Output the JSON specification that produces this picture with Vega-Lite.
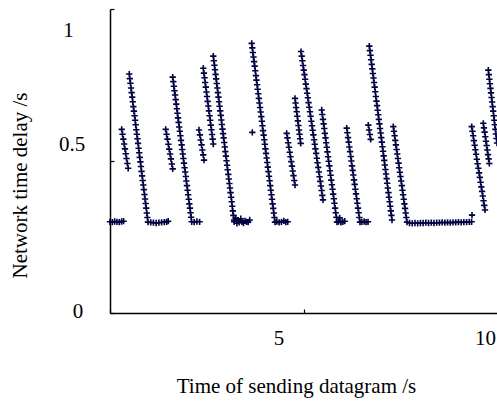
{
"$schema": "https://vega.github.io/schema/vega-lite/v6.json",
"width": 388,
"height": 304,
"autosize": {"type": "none"},
"padding": {"left": 110, "top": 9, "right": 0, "bottom": 88},
"background": "white",
"config": {
  "view": {"stroke": null},
  "axis": {"grid": false, "domainColor": "black", "domainWidth": 1.5, "tickColor": "black", "tickWidth": 1.2, "labelColor": "black", "titleColor": "black", "labelFont": "Liberation Serif", "titleFont": "Liberation Serif", "labelFontSize": 21, "titleFontSize": 21, "titleFontWeight": "normal"}
},
"data": {"values": [
{"t":0.00,"d":0.300},{"t":0.06,"d":0.299},{"t":0.12,"d":0.301},{"t":0.18,"d":0.300},{"t":0.24,"d":0.299},{"t":0.30,"d":0.301},{"t":0.35,"d":0.302},
{"t":0.302,"d":0.604},{"t":0.323,"d":0.588},{"t":0.344,"d":0.572},{"t":0.365,"d":0.556},{"t":0.386,"d":0.540},{"t":0.406,"d":0.524},{"t":0.427,"d":0.508},{"t":0.448,"d":0.492},{"t":0.469,"d":0.476},
{"t":0.497,"d":0.786},{"t":0.512,"d":0.771},{"t":0.527,"d":0.756},{"t":0.542,"d":0.740},{"t":0.557,"d":0.725},{"t":0.572,"d":0.710},{"t":0.587,"d":0.695},{"t":0.602,"d":0.679},{"t":0.617,"d":0.664},{"t":0.633,"d":0.649},{"t":0.648,"d":0.634},{"t":0.663,"d":0.619},{"t":0.678,"d":0.603},{"t":0.693,"d":0.588},{"t":0.708,"d":0.573},{"t":0.723,"d":0.558},{"t":0.738,"d":0.542},{"t":0.753,"d":0.527},{"t":0.768,"d":0.512},{"t":0.783,"d":0.497},{"t":0.798,"d":0.482},{"t":0.813,"d":0.466},{"t":0.828,"d":0.451},{"t":0.843,"d":0.436},{"t":0.858,"d":0.421},{"t":0.873,"d":0.406},{"t":0.889,"d":0.390},{"t":0.904,"d":0.375},{"t":0.919,"d":0.360},{"t":0.934,"d":0.345},{"t":0.949,"d":0.329},{"t":0.964,"d":0.314},{"t":0.979,"d":0.299},
{"t":1.05,"d":0.298},{"t":1.12,"d":0.297},{"t":1.19,"d":0.296},{"t":1.26,"d":0.297},{"t":1.33,"d":0.298},{"t":1.40,"d":0.299},{"t":1.46,"d":0.300},{"t":1.50,"d":0.302},
{"t":1.436,"d":0.604},{"t":1.459,"d":0.588},{"t":1.481,"d":0.572},{"t":1.504,"d":0.555},{"t":1.526,"d":0.539},{"t":1.549,"d":0.523},{"t":1.571,"d":0.507},{"t":1.594,"d":0.490},{"t":1.616,"d":0.474},
{"t":1.616,"d":0.776},{"t":1.631,"d":0.761},{"t":1.647,"d":0.746},{"t":1.662,"d":0.731},{"t":1.677,"d":0.717},{"t":1.693,"d":0.702},{"t":1.708,"d":0.687},{"t":1.723,"d":0.672},{"t":1.738,"d":0.657},{"t":1.754,"d":0.642},{"t":1.769,"d":0.627},{"t":1.784,"d":0.612},{"t":1.800,"d":0.598},{"t":1.815,"d":0.583},{"t":1.830,"d":0.568},{"t":1.846,"d":0.553},{"t":1.861,"d":0.538},{"t":1.876,"d":0.523},{"t":1.892,"d":0.508},{"t":1.907,"d":0.493},{"t":1.922,"d":0.478},{"t":1.938,"d":0.464},{"t":1.953,"d":0.449},{"t":1.968,"d":0.434},{"t":1.983,"d":0.419},{"t":1.999,"d":0.404},{"t":2.014,"d":0.389},{"t":2.029,"d":0.374},{"t":2.045,"d":0.359},{"t":2.060,"d":0.345},{"t":2.075,"d":0.330},{"t":2.091,"d":0.315},{"t":2.106,"d":0.300},
{"t":2.17,"d":0.299},{"t":2.24,"d":0.301},{"t":2.31,"d":0.300},
{"t":2.294,"d":0.602},{"t":2.316,"d":0.586},{"t":2.337,"d":0.569},{"t":2.359,"d":0.553},{"t":2.380,"d":0.536},{"t":2.402,"d":0.520},{"t":2.423,"d":0.503},
{"t":2.405,"d":0.805},{"t":2.421,"d":0.789},{"t":2.437,"d":0.774},{"t":2.453,"d":0.758},{"t":2.469,"d":0.743},{"t":2.485,"d":0.727},{"t":2.501,"d":0.712},{"t":2.517,"d":0.696},{"t":2.533,"d":0.681},{"t":2.550,"d":0.665},{"t":2.566,"d":0.649},{"t":2.582,"d":0.634},{"t":2.598,"d":0.618},{"t":2.614,"d":0.603},{"t":2.630,"d":0.587},{"t":2.646,"d":0.572},{"t":2.662,"d":0.556},
{"t":2.662,"d":0.845},{"t":2.677,"d":0.830},{"t":2.692,"d":0.815},{"t":2.706,"d":0.800},{"t":2.721,"d":0.785},{"t":2.736,"d":0.770},{"t":2.751,"d":0.755},{"t":2.766,"d":0.740},{"t":2.781,"d":0.725},{"t":2.795,"d":0.710},{"t":2.810,"d":0.695},{"t":2.825,"d":0.680},{"t":2.840,"d":0.665},{"t":2.855,"d":0.650},{"t":2.870,"d":0.635},{"t":2.884,"d":0.620},{"t":2.899,"d":0.605},{"t":2.914,"d":0.590},{"t":2.929,"d":0.576},{"t":2.944,"d":0.561},{"t":2.959,"d":0.546},{"t":2.973,"d":0.531},{"t":2.988,"d":0.516},{"t":3.003,"d":0.501},{"t":3.018,"d":0.486},{"t":3.033,"d":0.471},{"t":3.048,"d":0.456},{"t":3.062,"d":0.441},{"t":3.077,"d":0.426},{"t":3.092,"d":0.411},{"t":3.107,"d":0.396},{"t":3.122,"d":0.381},{"t":3.137,"d":0.366},{"t":3.151,"d":0.351},{"t":3.166,"d":0.336},{"t":3.181,"d":0.321},{"t":3.196,"d":0.306},
{"t":3.20,"d":0.300},{"t":3.24,"d":0.312},{"t":3.27,"d":0.295},{"t":3.30,"d":0.305},{"t":3.33,"d":0.298},{"t":3.37,"d":0.310},{"t":3.40,"d":0.300},{"t":3.44,"d":0.296},{"t":3.48,"d":0.303},{"t":3.52,"d":0.300},{"t":3.56,"d":0.299},{"t":3.60,"d":0.306},
{"t":3.668,"d":0.594},
{"t":3.652,"d":0.887},{"t":3.667,"d":0.872},{"t":3.683,"d":0.857},{"t":3.698,"d":0.842},{"t":3.714,"d":0.827},{"t":3.729,"d":0.812},{"t":3.744,"d":0.797},{"t":3.760,"d":0.781},{"t":3.775,"d":0.766},{"t":3.791,"d":0.751},{"t":3.806,"d":0.736},{"t":3.822,"d":0.721},{"t":3.837,"d":0.706},{"t":3.852,"d":0.691},{"t":3.868,"d":0.676},{"t":3.883,"d":0.661},{"t":3.899,"d":0.646},{"t":3.914,"d":0.631},{"t":3.929,"d":0.616},{"t":3.945,"d":0.600},{"t":3.960,"d":0.585},{"t":3.976,"d":0.570},{"t":3.991,"d":0.555},{"t":4.006,"d":0.540},{"t":4.022,"d":0.525},{"t":4.037,"d":0.510},{"t":4.053,"d":0.495},{"t":4.068,"d":0.480},{"t":4.083,"d":0.465},{"t":4.099,"d":0.450},{"t":4.114,"d":0.435},{"t":4.130,"d":0.419},{"t":4.145,"d":0.404},{"t":4.161,"d":0.389},{"t":4.176,"d":0.374},{"t":4.191,"d":0.359},{"t":4.207,"d":0.344},{"t":4.222,"d":0.329},{"t":4.238,"d":0.314},{"t":4.253,"d":0.299},
{"t":4.30,"d":0.301},{"t":4.36,"d":0.298},{"t":4.42,"d":0.300},{"t":4.48,"d":0.303},{"t":4.53,"d":0.299},{"t":4.58,"d":0.300},
{"t":4.554,"d":0.591},{"t":4.573,"d":0.576},{"t":4.593,"d":0.560},{"t":4.612,"d":0.545},{"t":4.632,"d":0.529},{"t":4.651,"d":0.514},{"t":4.671,"d":0.498},{"t":4.690,"d":0.483},{"t":4.710,"d":0.467},{"t":4.729,"d":0.452},{"t":4.749,"d":0.436},{"t":4.768,"d":0.421},
{"t":4.768,"d":0.706},{"t":4.783,"d":0.691},{"t":4.797,"d":0.676},{"t":4.812,"d":0.662},{"t":4.827,"d":0.647},{"t":4.842,"d":0.632},{"t":4.856,"d":0.617},{"t":4.871,"d":0.602},{"t":4.886,"d":0.588},{"t":4.900,"d":0.573},{"t":4.915,"d":0.558},
{"t":4.923,"d":0.860},{"t":4.941,"d":0.845},{"t":4.958,"d":0.830},{"t":4.976,"d":0.814},{"t":4.994,"d":0.799},{"t":5.012,"d":0.784},{"t":5.029,"d":0.769},{"t":5.047,"d":0.753},{"t":5.065,"d":0.738},{"t":5.082,"d":0.723},{"t":5.100,"d":0.708},{"t":5.118,"d":0.692},{"t":5.136,"d":0.677},{"t":5.153,"d":0.662},{"t":5.171,"d":0.647},{"t":5.189,"d":0.631},{"t":5.207,"d":0.616},{"t":5.224,"d":0.601},{"t":5.242,"d":0.586},{"t":5.260,"d":0.570},{"t":5.277,"d":0.555},{"t":5.295,"d":0.540},{"t":5.313,"d":0.525},{"t":5.331,"d":0.509},{"t":5.348,"d":0.494},{"t":5.366,"d":0.479},{"t":5.384,"d":0.464},{"t":5.401,"d":0.448},{"t":5.419,"d":0.433},{"t":5.437,"d":0.418},{"t":5.455,"d":0.403},{"t":5.472,"d":0.387},{"t":5.490,"d":0.372},
{"t":5.456,"d":0.668},{"t":5.472,"d":0.653},{"t":5.489,"d":0.637},{"t":5.505,"d":0.622},{"t":5.522,"d":0.607},{"t":5.538,"d":0.591},{"t":5.555,"d":0.576},{"t":5.571,"d":0.560},{"t":5.588,"d":0.545},{"t":5.604,"d":0.530},{"t":5.621,"d":0.514},{"t":5.637,"d":0.499},{"t":5.654,"d":0.484},{"t":5.670,"d":0.468},{"t":5.686,"d":0.453},{"t":5.703,"d":0.437},{"t":5.719,"d":0.422},{"t":5.736,"d":0.407},{"t":5.752,"d":0.391},{"t":5.769,"d":0.376},{"t":5.785,"d":0.361},{"t":5.802,"d":0.345},{"t":5.818,"d":0.330},{"t":5.835,"d":0.315},{"t":5.851,"d":0.299},
{"t":5.89,"d":0.301},{"t":5.92,"d":0.313},{"t":5.95,"d":0.298},{"t":6.00,"d":0.300},{"t":6.05,"d":0.302},
{"t":6.101,"d":0.608},{"t":6.118,"d":0.593},{"t":6.135,"d":0.577},{"t":6.152,"d":0.562},{"t":6.169,"d":0.546},{"t":6.187,"d":0.531},{"t":6.204,"d":0.515},{"t":6.221,"d":0.500},{"t":6.238,"d":0.484},{"t":6.255,"d":0.469},{"t":6.272,"d":0.454},{"t":6.289,"d":0.438},{"t":6.306,"d":0.423},{"t":6.323,"d":0.407},{"t":6.340,"d":0.392},{"t":6.358,"d":0.376},{"t":6.375,"d":0.361},{"t":6.392,"d":0.345},{"t":6.409,"d":0.330},{"t":6.426,"d":0.314},{"t":6.443,"d":0.299},
{"t":6.49,"d":0.300},{"t":6.55,"d":0.301},{"t":6.60,"d":0.299},{"t":6.65,"d":0.300},
{"t":6.657,"d":0.618},{"t":6.678,"d":0.602},{"t":6.698,"d":0.587},{"t":6.719,"d":0.571},
{"t":6.683,"d":0.878},{"t":6.698,"d":0.863},{"t":6.714,"d":0.848},{"t":6.729,"d":0.833},{"t":6.745,"d":0.818},{"t":6.760,"d":0.803},{"t":6.775,"d":0.788},{"t":6.791,"d":0.773},{"t":6.806,"d":0.758},{"t":6.822,"d":0.743},{"t":6.837,"d":0.728},{"t":6.852,"d":0.712},{"t":6.868,"d":0.697},{"t":6.883,"d":0.682},{"t":6.899,"d":0.667},{"t":6.914,"d":0.652},{"t":6.929,"d":0.637},{"t":6.945,"d":0.622},{"t":6.960,"d":0.607},{"t":6.976,"d":0.592},{"t":6.991,"d":0.577},{"t":7.006,"d":0.562},{"t":7.022,"d":0.547},{"t":7.037,"d":0.532},{"t":7.053,"d":0.517},{"t":7.068,"d":0.502},{"t":7.083,"d":0.487},{"t":7.099,"d":0.472},{"t":7.114,"d":0.457},{"t":7.130,"d":0.442},{"t":7.145,"d":0.427},{"t":7.160,"d":0.411},{"t":7.176,"d":0.396},{"t":7.191,"d":0.381},{"t":7.207,"d":0.366},{"t":7.222,"d":0.351},{"t":7.237,"d":0.336},{"t":7.253,"d":0.321},{"t":7.268,"d":0.306},
{"t":7.302,"d":0.613},{"t":7.319,"d":0.598},{"t":7.336,"d":0.583},{"t":7.352,"d":0.568},{"t":7.369,"d":0.553},{"t":7.386,"d":0.538},{"t":7.403,"d":0.523},{"t":7.420,"d":0.508},{"t":7.437,"d":0.493},{"t":7.453,"d":0.478},{"t":7.470,"d":0.463},{"t":7.487,"d":0.449},{"t":7.504,"d":0.434},{"t":7.521,"d":0.419},{"t":7.537,"d":0.404},{"t":7.554,"d":0.389},{"t":7.571,"d":0.374},{"t":7.588,"d":0.359},{"t":7.605,"d":0.344},{"t":7.621,"d":0.329},{"t":7.638,"d":0.314},{"t":7.655,"d":0.299},
{"t":7.72,"d":0.296},{"t":7.79,"d":0.295},{"t":7.86,"d":0.296},{"t":7.93,"d":0.295},{"t":8.00,"d":0.296},{"t":8.07,"d":0.296},{"t":8.14,"d":0.297},{"t":8.21,"d":0.296},{"t":8.28,"d":0.297},{"t":8.35,"d":0.296},{"t":8.42,"d":0.297},{"t":8.49,"d":0.297},{"t":8.56,"d":0.298},{"t":8.63,"d":0.297},{"t":8.70,"d":0.298},{"t":8.77,"d":0.297},{"t":8.84,"d":0.298},{"t":8.91,"d":0.298},{"t":8.98,"d":0.299},{"t":9.05,"d":0.298},{"t":9.12,"d":0.299},{"t":9.19,"d":0.299},{"t":9.26,"d":0.300},{"t":9.32,"d":0.300},{"t":9.33,"d":0.322},
{"t":9.322,"d":0.613},{"t":9.341,"d":0.598},{"t":9.360,"d":0.583},{"t":9.379,"d":0.567},{"t":9.398,"d":0.552},{"t":9.417,"d":0.537},{"t":9.436,"d":0.522},{"t":9.455,"d":0.506},{"t":9.474,"d":0.491},{"t":9.494,"d":0.476},{"t":9.513,"d":0.461},{"t":9.532,"d":0.446},{"t":9.551,"d":0.430},{"t":9.570,"d":0.415},{"t":9.589,"d":0.400},{"t":9.608,"d":0.385},{"t":9.627,"d":0.369},{"t":9.646,"d":0.354},{"t":9.665,"d":0.339},
{"t":9.621,"d":0.624},{"t":9.638,"d":0.609},{"t":9.655,"d":0.595},{"t":9.673,"d":0.580},{"t":9.690,"d":0.565},{"t":9.707,"d":0.551},{"t":9.724,"d":0.536},{"t":9.742,"d":0.521},{"t":9.759,"d":0.507},{"t":9.776,"d":0.492},
{"t":9.750,"d":0.799},{"t":9.764,"d":0.784},{"t":9.778,"d":0.769},{"t":9.792,"d":0.754},{"t":9.806,"d":0.739},{"t":9.820,"d":0.724},{"t":9.834,"d":0.709},{"t":9.848,"d":0.694},{"t":9.862,"d":0.679},{"t":9.876,"d":0.664},{"t":9.890,"d":0.649},{"t":9.904,"d":0.634},{"t":9.918,"d":0.619},{"t":9.932,"d":0.604},{"t":9.946,"d":0.589},{"t":9.960,"d":0.574},{"t":9.974,"d":0.559}
]},
"mark": {"type": "point", "shape": "M-1,0L1,0M0,-1L0,1", "filled": false, "stroke": "#000040", "strokeWidth": 1.6, "size": 40, "opacity": 1},
"encoding": {
  "x": {"field": "t", "type": "quantitative", "scale": {"domain": [0, 10], "nice": false, "zero": false},
    "axis": {"title": "Time of sending datagram /s", "values": [0, 5, 10], "labelExpr": "datum.value == 0 ? '' : datum.label", "tickSize": -4, "labelFlush": false, "labelPadding": 18, "labelBaseline": "top", "labelAlign": "center",
      "labelOffset": {"condition": {"test": "datum.value == 10", "value": -13}, "value": -25.5},
      "titleX": 186, "titleY": 79, "titleAlign": "center", "titleBaseline": "alphabetic"}},
  "y": {"field": "d", "type": "quantitative", "scale": {"domain": [0, 1], "nice": false, "zero": false},
    "axis": {"title": "Network time delay /s", "values": [0, 0.5, 1], "format": "~g", "tickSize": -4, "labelAlign": "center", "labelBaseline": "middle",
      "labelPadding": {"condition": [{"test": "datum.value == 1", "value": 46}, {"test": "datum.value == 0.5", "value": 42.5}], "value": 36.5},
      "labelOffset": {"condition": [{"test": "datum.value == 1", "value": 21}, {"test": "datum.value == 0.5", "value": -17}], "value": -2},
      "titleX": -84, "titleY": 176, "titleAngle": 270, "titleAlign": "center", "titleBaseline": "alphabetic"}}
}
}
